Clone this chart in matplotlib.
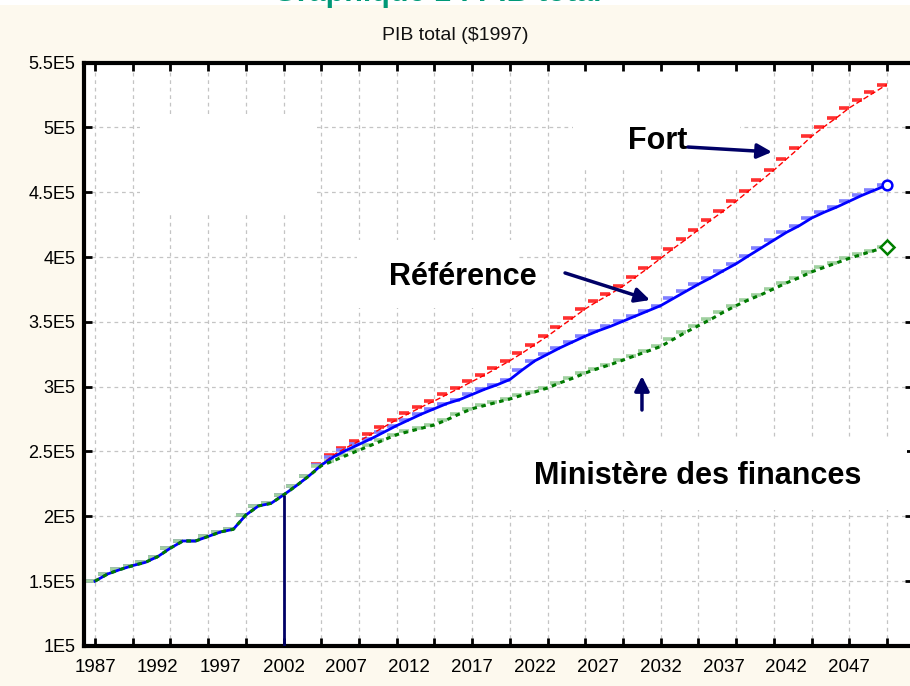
import numpy as np
import matplotlib.pyplot as plt
from matplotlib.patches import Rectangle

# Données (PIB total, $1997)
years = np.arange(1987, 2051)

historique = [1.500, 1.555, 1.590, 1.620, 1.645, 1.690, 1.755, 1.810, 1.810,
              1.845, 1.880, 1.900, 2.010, 2.080, 2.100, 2.165, 2.235, 2.310]

fort_proj = [2.400, 2.475, 2.530, 2.580, 2.635, 2.690, 2.745, 2.795, 2.845,
             2.890, 2.940, 2.990, 3.040, 3.090, 3.145, 3.200, 3.260, 3.325,
             3.390, 3.460, 3.530, 3.600, 3.660, 3.715, 3.775, 3.845, 3.915,
             3.990, 4.065, 4.135, 4.210, 4.285, 4.355, 4.430, 4.510, 4.590,
             4.670, 4.755, 4.840, 4.930, 5.005, 5.075, 5.150, 5.210, 5.270,
             5.330]

ref_proj = [2.395, 2.460, 2.510, 2.555, 2.600, 2.650, 2.700, 2.745, 2.790,
            2.830, 2.870, 2.900, 2.940, 2.980, 3.015, 3.055, 3.130, 3.200,
            3.250, 3.300, 3.345, 3.390, 3.430, 3.465, 3.505, 3.545, 3.585,
            3.625, 3.680, 3.735, 3.790, 3.840, 3.895, 3.948, 4.010, 4.070,
            4.130, 4.190, 4.240, 4.300, 4.345, 4.385, 4.430, 4.475, 4.515,
            4.555]

min_proj = [2.390, 2.430, 2.470, 2.510, 2.550, 2.590, 2.630, 2.655, 2.680,
            2.705, 2.745, 2.790, 2.830, 2.855, 2.880, 2.905, 2.935, 2.960,
            2.990, 3.030, 3.065, 3.105, 3.140, 3.170, 3.205, 3.240, 3.275,
            3.310, 3.365, 3.420, 3.470, 3.520, 3.575, 3.625, 3.670, 3.710,
            3.755, 3.800, 3.840, 3.885, 3.920, 3.955, 3.990, 4.020, 4.050,
            4.080]

fort = np.array(historique + fort_proj) * 1e5
reference = np.array(historique + ref_proj) * 1e5
ministere = np.array(historique + min_proj) * 1e5

ytick_vals = [1e5, 1.5e5, 2e5, 2.5e5, 3e5, 3.5e5, 4e5, 4.5e5, 5e5, 5.5e5]
ytick_labels = ['1E5', '1.5E5', '2E5', '2.5E5', '3E5', '3.5E5', '4E5',
                '4.5E5', '5E5', '5.5E5']
xlabel_years = np.arange(1987, 2048, 5)
grid_years = np.arange(1987, 2051, 3)

plt.rcParams['font.family'] = ['Liberation Sans', 'DejaVu Sans']

fig = plt.figure(figsize=(9.1, 6.86), dpi=100, facecolor='#fdf9ee')
fig.patches.append(Rectangle((0, 1 - 5 / 686), 1, 5 / 686, transform=fig.transFigure,
                             facecolor='white', edgecolor='none', zorder=0))
ax = fig.add_axes([83.5 / 910, 40 / 686, 829.5 / 910, 583.5 / 686])
ax.set_facecolor('white')

# titre coupé en haut de l'image
fig.text(0.48, 1 - 1 / 686, 'Graphique 1 : PIB total', color='#009977',
         fontsize=22, fontweight='bold', ha='center', va='baseline')
fig.text(0.5, 1 - 36 / 686, 'PIB total ($1997)', fontsize=14, ha='center',
         va='center', color='#111111')

ax.set_xlim(1986.085, 2052.07)
ax.set_ylim(1e5, 5.5e5)

ax.set_axisbelow(True)
ax.xaxis.remove_overlapping_locs = False
ax.set_xticks(grid_years)
ax.set_xticklabels([])
ax.set_xticks(xlabel_years, minor=True)
ax.set_xticklabels([str(y) for y in xlabel_years], minor=True, fontsize=13.5)
ax.tick_params(axis='x', which='major', direction='in', length=6, width=2,
               top=True, bottom=True)
ax.tick_params(axis='x', which='minor', length=0, pad=9)
ax.set_yticks(ytick_vals)
ax.set_yticklabels(ytick_labels, fontsize=13)
ax.tick_params(axis='y', direction='in', length=6, width=2, left=True,
               right=True, pad=6)
ax.grid(True, which='major', color='#c4c4c4', linestyle=(0, (3, 3)), lw=0.9)

for side in ['left', 'top', 'bottom', 'right']:
    ax.spines[side].set_linewidth(3)

# cadres blancs (légende masquée et zones de texte)
boxes = [(140, 117, 314, 215), (573, 72, 740, 170), (357, 240, 517, 308),
         (481, 437, 907, 510)]
for x0, y0, x1, y1 in boxes:
    ax.add_patch(Rectangle(((x0 - 83.5) / 829.5, (646 - y1) / 583.5),
                           (x1 - x0) / 829.5, (y1 - y0) / 583.5,
                           transform=ax.transAxes, facecolor='white',
                           edgecolor='none', zorder=1))

# marques en escalier à chaque année
ax.hlines(fort, years - 0.8, years, color='#ff3030', lw=2.6, zorder=2)
ax.plot(years, fort, color='#ff0000', lw=1.0, linestyle=(0, (4, 2)), zorder=3)

ax.hlines(reference, years - 0.8, years, color='#8080ff', lw=2.6, zorder=2)
ax.plot(years, reference, color='#0000ff', lw=2.0, zorder=3)
ax.plot(years[-1], reference[-1], marker='o', ms=7, mfc='white', mec='#0000ff',
        mew=1.8, zorder=4)

ax.hlines(ministere, years - 0.8, years, color='#a0d0a0', lw=2.6, zorder=2)
ax.plot(years, ministere, color='#007a00', lw=2.2, linestyle=(0, (1.5, 1.5)),
        zorder=3)
ax.plot(years[-1], ministere[-1], marker='D', ms=7, mfc='white', mec='#008000',
        mew=1.8, zorder=4)

# ligne verticale en 2002
idx2002 = list(years).index(2002)
ax.vlines(2002, 1e5, reference[idx2002], color='#000066', lw=2, zorder=4)

navy = '#000066'
arrow = dict(arrowstyle='-|>', color=navy, lw=2.5, mutation_scale=22,
             shrinkA=0, shrinkB=0)
ax.text(2031.79, 4.895e5, 'Fort', fontsize=22, fontweight='bold', ha='center',
        va='center', zorder=5)
ax.annotate('', xy=(2040.85, 4.81e5), xytext=(2034.17, 4.848e5),
            arrowprops=arrow, zorder=5)
ax.text(2016.27, 3.846e5, 'Référence', fontsize=22, fontweight='bold',
        ha='center', va='center', zorder=5)
ax.annotate('', xy=(2031.15, 3.668e5), xytext=(2024.39, 3.877e5),
            arrowprops=arrow, zorder=5)
ax.text(2034.97, 2.311e5, 'Ministère des finances', fontsize=22,
        fontweight='bold', ha='center', va='center', zorder=5)
ax.annotate('', xy=(2030.51, 3.082e5), xytext=(2030.51, 2.82e5),
            arrowprops=arrow, zorder=5)

fig.savefig('out.png', dpi=100, facecolor=fig.get_facecolor())
